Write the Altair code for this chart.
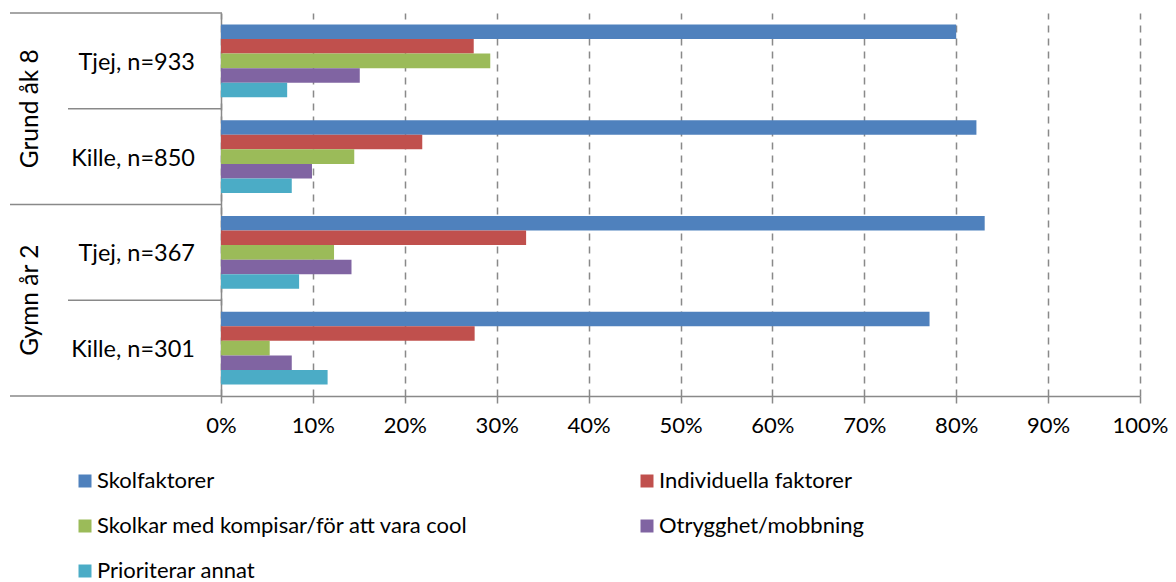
import altair as alt
import pandas as pd

groups = ["Tjej, n=933", "Kille, n=850", "Tjej, n=367", "Kille, n=301"]
outer_labels = ["Grund åk 8", "Gymn år 2"]
outer_anchor = ["Tjej, n=933", "Tjej, n=367"]
series = ["Skolfaktorer", "Individuella faktorer",
          "Skolkar med kompisar/för att vara cool",
          "Otrygghet/mobbning", "Prioriterar annat"]
colors = ["#4F81BD", "#C0504D", "#9BBB59", "#8064A2", "#4BACC6"]

skolfaktorer = [0.800, 0.822, 0.831, 0.771]
individuella = [0.275, 0.219, 0.332, 0.276]
skolkar = [0.293, 0.145, 0.123, 0.053]
otrygghet = [0.151, 0.099, 0.142, 0.077]
prioriterar = [0.072, 0.077, 0.085, 0.116]

values = [skolfaktorer, individuella, skolkar, otrygghet, prioriterar]
rows = []
for s, vals in zip(series, values):
    for g, v in zip(groups, vals):
        rows.append({"grp": g, "series": s, "value": v})
df = pd.DataFrame(rows)

FONT = "Lato"
FS = 22
GRAY = "#898989"

yscale = alt.Scale(domain=groups, paddingInner=0, paddingOuter=0)
yaxis = alt.Axis(title=None, ticks=False, labels=False, domainColor=GRAY, domainWidth=1.5)

bars = alt.Chart(df).mark_bar().encode(
    y=alt.Y("grp:N", sort=groups, scale=yscale, axis=yaxis),
    yOffset=alt.YOffset("series:N", sort=series,
                        scale=alt.Scale(domain=series, paddingInner=0, paddingOuter=0.78)),
    x=alt.X("value:Q", scale=alt.Scale(domain=[0, 1], nice=False),
            axis=alt.Axis(title=None, format="%", values=[i / 10 for i in range(11)],
                          grid=True, gridDash=[7, 6], gridColor=GRAY, gridWidth=1.5,
                          domainColor=GRAY, domainWidth=1.5, tickColor=GRAY, tickWidth=1.5,
                          tickSize=7, labelFont=FONT, labelFontSize=FS, labelColor="black",
                          labelPadding=12, labelFlush=False)),
    color=alt.Color("series:N", sort=series,
                    scale=alt.Scale(domain=series, range=colors),
                    legend=alt.Legend(orient="none", legendX=-147, legendY=457, columns=2,
                                      direction="horizontal",
                                      title=None, symbolType="square", symbolSize=169,
                                      symbolStrokeWidth=0, labelFont=FONT, labelFontSize=22,
                                      labelColor="black", labelOffset=1, labelLimit=0,
                                      columnPadding=167, rowPadding=23)),
)

long_df = pd.DataFrame({"grp": outer_anchor})
short_df = pd.DataFrame({"grp": [g for g in groups if g not in outer_anchor]})
bottom_df = pd.DataFrame({"grp": [groups[-1]]})
inner_df = pd.DataFrame({"grp": groups})

rule_y0 = alt.Y("grp:N", sort=groups, scale=yscale, axis=yaxis, bandPosition=0)
rule_y1 = alt.Y("grp:N", sort=groups, scale=yscale, axis=yaxis, bandPosition=1)
mid_y = alt.Y("grp:N", sort=groups, scale=yscale, axis=yaxis)

long_lines = alt.Chart(long_df).mark_rule(color=GRAY, strokeWidth=1.5).encode(
    y=rule_y0, x=alt.value(-211), x2=alt.value(1))
short_lines = alt.Chart(short_df).mark_rule(color=GRAY, strokeWidth=1.5).encode(
    y=rule_y0, x=alt.value(-153), x2=alt.value(1))
bottom_line = alt.Chart(bottom_df).mark_rule(color=GRAY, strokeWidth=1.5).encode(
    y=rule_y1, x=alt.value(-211), x2=alt.value(1))

inner_text = alt.Chart(inner_df).mark_text(
    align="right", baseline="alphabetic", dy=9, font=FONT, fontSize=23.5, color="black"
).encode(y=mid_y, x=alt.value(-26), text="grp:N")

outer_df = pd.DataFrame({"grp": outer_anchor, "label": outer_labels})
outer_text = alt.Chart(outer_df).mark_text(
    angle=270, align="center", baseline="alphabetic", font=FONT, fontSize=24.5, color="black"
).encode(y=rule_y1, x=alt.value(-183), text="label:N")

chart = alt.layer(bars, long_lines, short_lines, bottom_line, inner_text, outer_text).properties(
    width=919, height=383,
    autosize=alt.AutoSizeParams(type="none"),
    padding={"left": 213, "top": 5, "right": 28, "bottom": 186},
    background="white",
).configure_view(stroke=None)

chart.save("out.html", embed_options={"renderer": "svg", "actions": False})
